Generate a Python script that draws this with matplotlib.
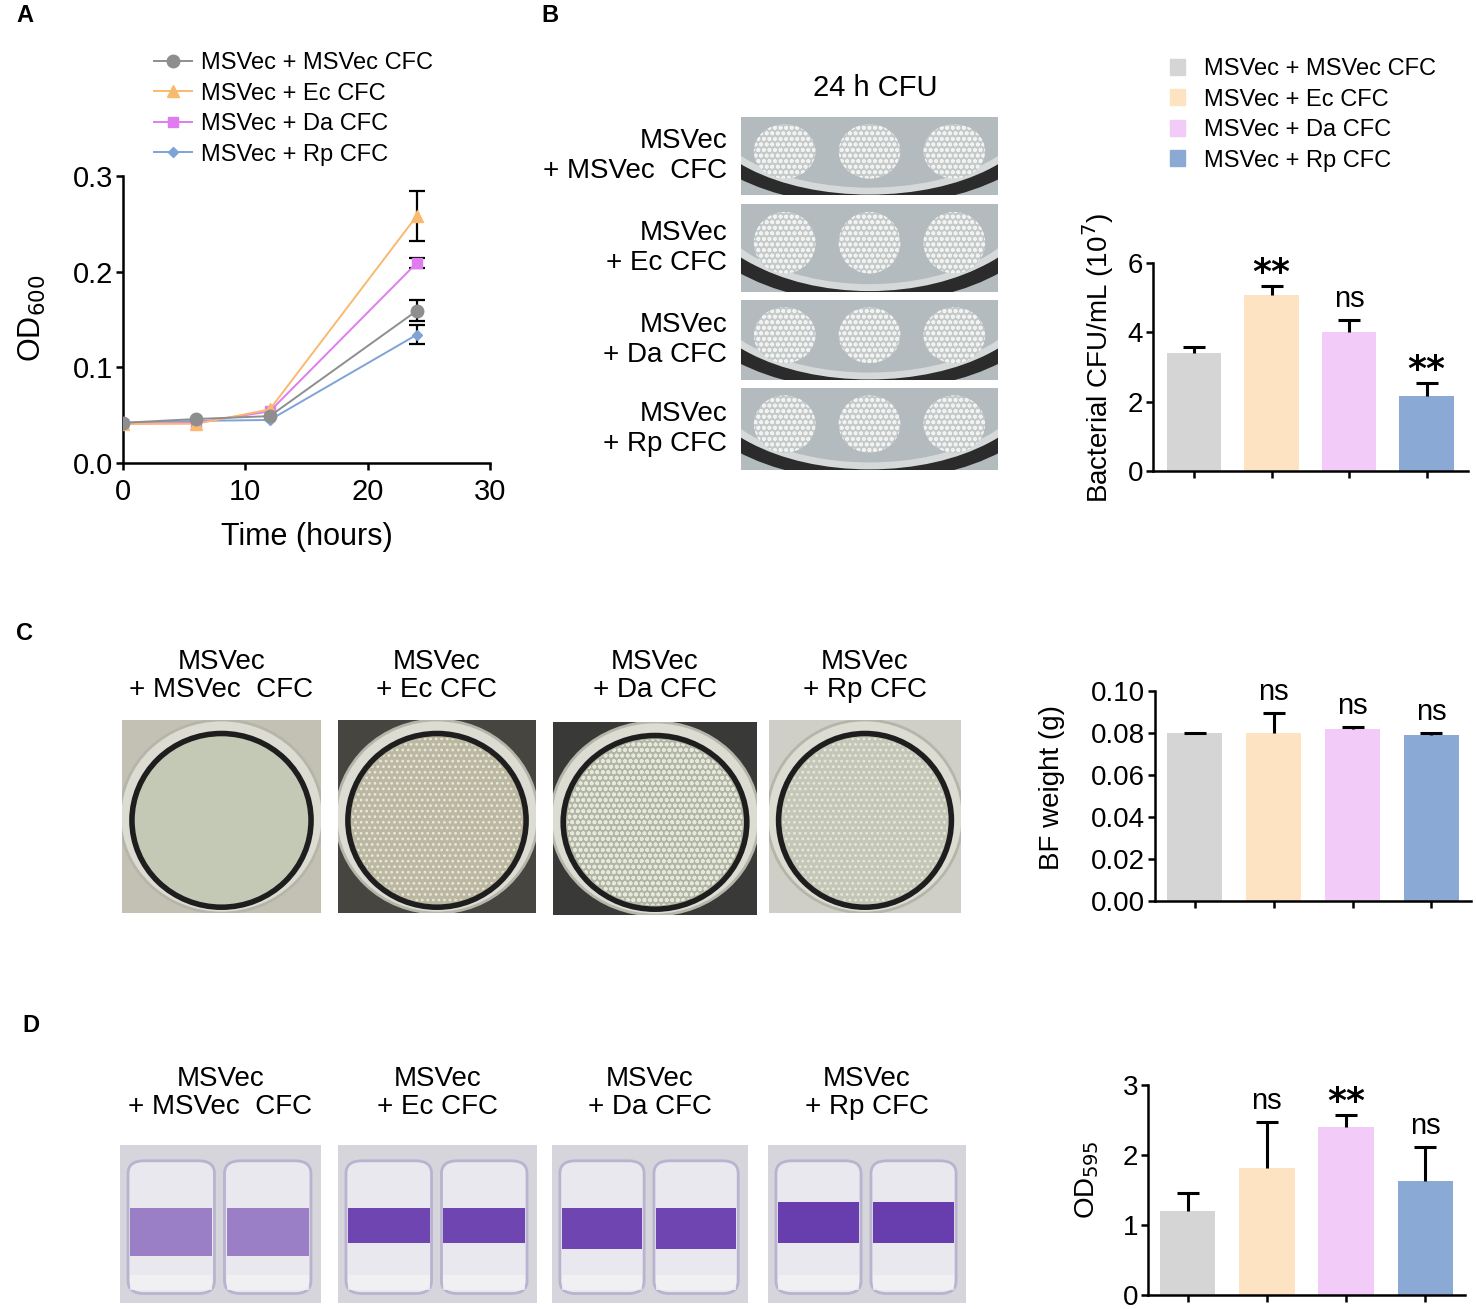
import matplotlib.pyplot as plt
from matplotlib.patches import Ellipse, Rectangle, FancyBboxPatch, Patch
import numpy as np

plt.rcParams['font.family'] = ['Liberation Sans', 'DejaVu Sans']
plt.rcParams['hatch.linewidth'] = 1.2

W, H = 1476, 1309

groups = ['MSVec + MSVec CFC', 'MSVec + Ec CFC', 'MSVec + Da CFC', 'MSVec + Rp CFC']
photo_labels = ['MSVec\n+ MSVec  CFC', 'MSVec\n+ Ec CFC', 'MSVec\n+ Da CFC', 'MSVec\n+ Rp CFC']
line_colors = ['#8e8e8e', '#f9b96f', '#e07cf0', '#7ea3d6']
bar_colors = ['#d5d5d5', '#fde3c2', '#f2cbf9', '#8aaad5']
markers = ['o', '^', 's', 'D']
marker_sizes = [9, 8, 7.5, 5.5]

# A: growth curves (OD600)
hours = [0, 6, 12, 24]
od_msvec = [0.042, 0.046, 0.049, 0.159]
od_ec = [0.041, 0.041, 0.056, 0.258]
od_da = [0.041, 0.042, 0.054, 0.209]
od_rp = [0.042, 0.044, 0.045, 0.134]
od_err_24h = [0.011, 0.026, 0.005, 0.010]

# B: CFU (10^7 / mL)
cfu = [3.41, 5.06, 3.99, 2.16]
cfu_err = [0.15, 0.28, 0.35, 0.37]
cfu_sig = ['', '**', 'ns', '**']

# C: biofilm weight (g)
bf_weight = [0.080, 0.080, 0.0818, 0.0790]
bf_err = [0.0, 0.0095, 0.0008, 0.0008]
bf_sig = ['', 'ns', 'ns', 'ns']

# D: crystal violet OD595
od595 = [1.20, 1.82, 2.40, 1.63]
od595_err = [0.26, 0.65, 0.17, 0.48]
od595_sig = ['', 'ns', '**', 'ns']

fig = plt.figure(figsize=(W / 100, H / 100), dpi=100)


def px_axes(l, t, r, b):
    return fig.add_axes([l / W, 1 - b / H, (r - l) / W, (b - t) / H])


def style(ax):
    ax.spines['top'].set_visible(False)
    ax.spines['right'].set_visible(False)
    ax.spines['left'].set_linewidth(1.8)
    ax.spines['bottom'].set_linewidth(1.8)
    ax.tick_params(width=1.8, length=5, labelsize=20, pad=2)


def bar_panel(ax, vals, errs, sigs, ylim, yticks, fmt):
    x = np.arange(len(vals))
    ax.bar(x, vals, width=0.7, color=bar_colors, zorder=1)
    eb = ax.errorbar(x, vals, yerr=[np.zeros(len(vals)), errs], fmt='none', ecolor='black',
                     elinewidth=2.2, capsize=8, capthick=2.2, zorder=2)
    # only the upper caps, as in the original
    eb[1][0].set_visible(False)
    for i, s in enumerate(sigs):
        if not s:
            continue
        top = vals[i] + errs[i]
        if s == '**':
            ax.annotate(s, (i, top), xytext=(0, -3), textcoords='offset points', ha='center',
                        va='bottom', fontsize=26, fontweight='bold', family='DejaVu Sans')
        else:
            ax.annotate(s, (i, top), xytext=(0, 5), textcoords='offset points', ha='center',
                        va='bottom', fontsize=21)
    ax.set_xlim(-0.5, 3.5)
    ax.set_ylim(*ylim)
    ax.set_yticks(yticks)
    ax.set_yticklabels([fmt % v for v in yticks])
    ax.set_xticks(x)
    ax.set_xticklabels([])
    style(ax)


# ---------------- Panel A ----------------
axa = px_axes(123, 176, 490, 463)
series = [od_msvec, od_ec, od_da, od_rp]
zorders = [6, 5, 4, 3]
for i, s in enumerate(series):
    axa.errorbar(hours[-1], s[-1], yerr=od_err_24h[i], fmt='none', ecolor='black',
                 elinewidth=1.6, capsize=6, capthick=1.6, zorder=2)
    axa.plot(hours, s, color=line_colors[i], marker=markers[i], ms=marker_sizes[i],
             lw=1.4, label=groups[i], zorder=zorders[i])
axa.set_xlim(0, 30)
axa.set_ylim(0, 0.3)
axa.set_xticks([0, 10, 20, 30])
axa.set_yticks([0, 0.1, 0.2, 0.3])
axa.set_yticklabels(['0.0', '0.1', '0.2', '0.3'])
style(axa)
axa.tick_params(labelsize=21)
axa.tick_params(axis='x', pad=6)
axa.set_xlabel('Time (hours)', fontsize=22)
axa.xaxis.label.set_va('center')
axa.xaxis.set_label_coords(0.5, -0.258)
axa.set_ylabel('OD$_{600}$', fontsize=22)
axa.yaxis.label.set_va('center')
axa.yaxis.set_label_coords(-0.248, 0.505)
axa.legend(loc='upper left', bbox_to_anchor=(154 / W, 1 - 52 / H), bbox_transform=fig.transFigure,
           frameon=False, fontsize=17, handlelength=1.6, handletextpad=0.4,
           labelspacing=0.36, borderaxespad=0, borderpad=0)

# ---------------- Panel B ----------------
photo_rows = [(117, 195), (204, 292), (300, 380), (388, 470)]
for k, (t, b) in enumerate(photo_rows):
    ax = px_axes(741, t, 998, b)
    ax.set_xlim(0, 1)
    ax.set_ylim(0, 1)
    ax.axis('off')
    ax.add_patch(Rectangle((0, 0), 1, 1, color='#b3bbbe'))
    ax.add_patch(Ellipse((0.5, 1.15), 1.42, 2.4, fc='none', ec='#2b2b2b', lw=10))
    ax.add_patch(Ellipse((0.5, 1.15), 1.3, 2.2, fc='none', ec='#d5d9da', lw=5))
    for cx in (0.17, 0.5, 0.83):
        ax.add_patch(Ellipse((cx, 0.56), 0.24, 0.7, fc='#c4cacc', ec='#f2f2ee', hatch='ooo', lw=0))
    fig.text(727 / W, 1 - (t + b) / 2 / H, photo_labels[k], ha='right', va='center',
             multialignment='right', fontsize=20, linespacing=1.2)
fig.text(875 / W, 1 - 88 / H, '24 h CFU', ha='center', va='center', fontsize=21)

axb = px_axes(1153, 262.7, 1467.6, 471)
bar_panel(axb, cfu, cfu_err, cfu_sig, (0, 6), [0, 2, 4, 6], '%d')
axb.set_xlim(-0.53, 3.53)
axb.set_ylabel('Bacterial CFU/mL (10$^7$)', fontsize=20)
axb.yaxis.label.set_va('center')
axb.yaxis.set_label_coords(-0.175, 0.54)
handles = [Patch(color=c) for c in bar_colors]
axb.legend(handles, groups, loc='upper left', bbox_to_anchor=(1170 / W, 1 - 58 / H),
           bbox_transform=fig.transFigure, frameon=False, fontsize=17, handlelength=0.65,
           handleheight=0.65, handletextpad=0.8, labelspacing=0.36, borderaxespad=0, borderpad=0)

# ---------------- Panel C ----------------
c_photos = [(122, 720, 321, 913), (338, 720, 536, 913), (553, 722, 757, 915), (769, 720, 961, 913)]
c_bg = ['#c2c1b3', '#47453f', '#393937', '#cfcfc8']
c_inner = ['#c4c9b6', '#bcb7a0', '#b0b5a4', '#c4c7b8']
c_hatch = [None, '...', 'ooo', '...']
for k, (l, t, r, b) in enumerate(c_photos):
    ax = px_axes(l, t, r, b)
    ax.set_xlim(0, 1)
    ax.set_ylim(0, 1)
    ax.axis('off')
    ax.add_patch(Rectangle((0, 0), 1, 1, color=c_bg[k]))
    ax.add_patch(Ellipse((0.5, 0.5), 1.02, 1.0, fc='#dcdcd3', ec='#b5b5aa', lw=2))
    ax.add_patch(Ellipse((0.5, 0.48), 0.9, 0.9, fc=c_inner[k], ec='#1e1e1e', lw=4))
    if c_hatch[k]:
        ax.add_patch(Ellipse((0.5, 0.48), 0.86, 0.86, fc='none', ec='#e6e8dc',
                             hatch=c_hatch[k], lw=0))
    fig.text((l + r) / 2 / W, 1 - 676 / H, photo_labels[k], ha='center', va='center',
             multialignment='center', fontsize=20, linespacing=1.1)

axc = px_axes(1155, 690.7, 1471, 900.7)
bar_panel(axc, bf_weight, bf_err, bf_sig, (0, 0.10), [0, 0.02, 0.04, 0.06, 0.08, 0.10], '%.2f')
axc.set_ylabel('BF weight (g)', fontsize=20)
axc.yaxis.label.set_va('center')
axc.yaxis.set_label_coords(-0.326, 0.54)

# ---------------- Panel D ----------------
d_photos = [(120, 1145, 321, 1303), (338, 1145, 537, 1303), (552, 1145, 748, 1303), (768, 1145, 966, 1303)]
d_band = [(0.30, 0.30, 0.55), (0.38, 0.22, 0.85), (0.34, 0.26, 0.85), (0.38, 0.26, 0.9)]
for k, (l, t, r, b) in enumerate(d_photos):
    ax = px_axes(l, t, r, b)
    ax.set_xlim(0, 1)
    ax.set_ylim(0, 1)
    ax.axis('off')
    ax.add_patch(Rectangle((0, 0), 1, 1, color='#d6d5dc'))
    for x0 in (0.04, 0.52):
        ax.add_patch(FancyBboxPatch((x0, 0.06), 0.43, 0.84, boxstyle='round,pad=0,rounding_size=0.08',
                                    fc='#e9e8ef', ec='#b9b3cf', lw=2))
        y0, h, a = d_band[k]
        ax.add_patch(Rectangle((x0 + 0.01, y0), 0.41, h, fc='#5a2aa6', alpha=a, lw=0))
        ax.add_patch(Rectangle((x0 + 0.01, 0.08), 0.41, 0.1, fc='#f2f2f4', alpha=0.8, lw=0))
    fig.text((l + r) / 2 / W, 1 - 1093 / H, photo_labels[k], ha='center', va='center',
             multialignment='center', fontsize=20, linespacing=1.1)

axd = px_axes(1148, 1085, 1465, 1295)
bar_panel(axd, od595, od595_err, od595_sig, (0, 3), [0, 1, 2, 3], '%d')
axd.set_ylabel('OD$_{595}$', fontsize=20)
axd.yaxis.label.set_va('center')
axd.yaxis.set_label_coords(-0.192, 0.55)

# panel letters
for letter, (x, y) in zip('ABCD', [(25, 15), (550, 15), (25, 633), (31, 1025)]):
    fig.text(x / W, 1 - y / H, letter, fontsize=17, fontweight='bold', ha='center', va='center')

fig.savefig('out.png', dpi=100)
